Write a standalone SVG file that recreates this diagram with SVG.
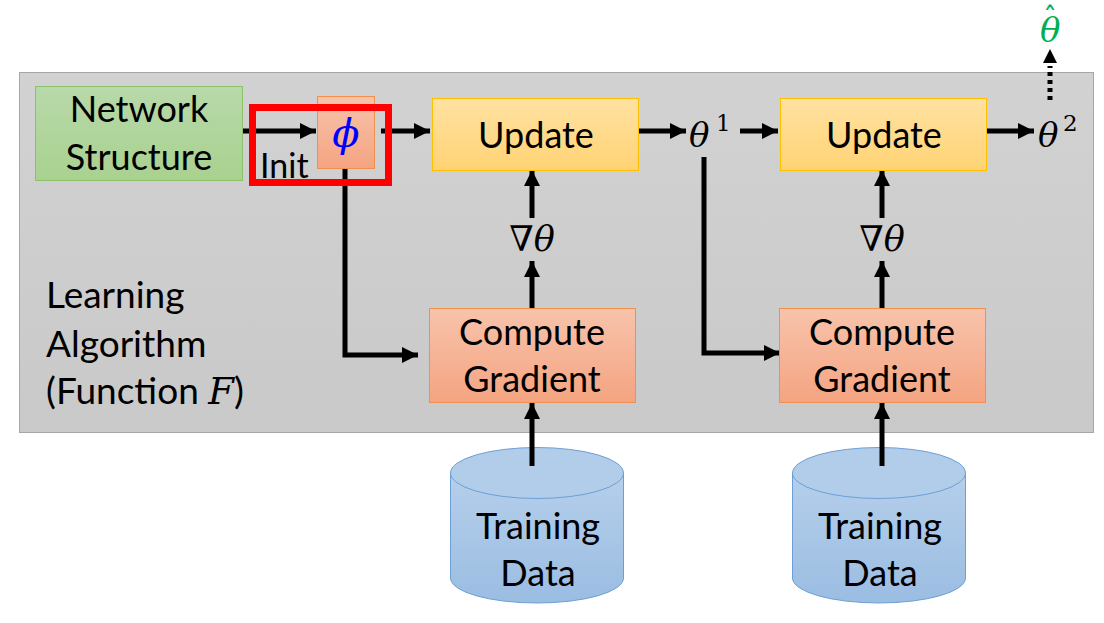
<svg xmlns="http://www.w3.org/2000/svg" width="1104" height="623" viewBox="0 0 1104 623">
<defs>
<linearGradient id="gYel" x1="0" y1="0" x2="0" y2="1"><stop offset="0" stop-color="#ffe2a2"/><stop offset="1" stop-color="#ffd374"/></linearGradient>
<linearGradient id="gSal" x1="0" y1="0" x2="0" y2="1"><stop offset="0" stop-color="#f8c3ab"/><stop offset="1" stop-color="#f4a481"/></linearGradient>
<linearGradient id="gGrn" x1="0" y1="0" x2="0" y2="1"><stop offset="0" stop-color="#b8d9aa"/><stop offset="1" stop-color="#a9d18f"/></linearGradient>
<linearGradient id="gBlu" x1="0" y1="0" x2="0" y2="1"><stop offset="0" stop-color="#b5cfeb"/><stop offset="1" stop-color="#9bbde2"/></linearGradient>
<linearGradient id="gPanel" x1="0" y1="0" x2="0" y2="1"><stop offset="0" stop-color="#d2d2d2"/><stop offset="1" stop-color="#c9c9c9"/></linearGradient>
<marker id="ah" viewBox="0 0 10 10" refX="10" refY="5" markerWidth="3.2" markerHeight="3.2" orient="auto" markerUnits="strokeWidth"><path d="M0,0 L10,5 L0,10 Z" fill="#000"/></marker>
</defs>
<style>
.t{font-family:Lato,"Open Sans","Liberation Sans",sans-serif;font-size:36px;fill:#000;text-anchor:middle}
.m{font-family:"DejaVu Serif","Liberation Serif",serif;font-style:italic;fill:#000}
.c{stroke:#000;stroke-width:5;fill:none}
</style>
<rect x="19.5" y="72.5" width="1074" height="360" fill="url(#gPanel)" stroke="#a6a6a6" stroke-width="1"/>

<g id="connectors">
<line class="c" x1="242" y1="131" x2="316" y2="131" marker-end="url(#ah)"/>
<line class="c" x1="381" y1="131" x2="430" y2="131" marker-end="url(#ah)"/>
<line class="c" x1="638" y1="131" x2="686" y2="131" marker-end="url(#ah)"/>
<line class="c" x1="740" y1="131" x2="778" y2="131" marker-end="url(#ah)"/>
<line class="c" x1="986" y1="131" x2="1034" y2="131" marker-end="url(#ah)"/>
<line x1="1050" y1="100" x2="1050" y2="66" stroke="#000" stroke-width="5" stroke-dasharray="4,4"/>
<path d="M1043,63 L1050,49 L1057,63 Z" fill="#000"/>
<polyline class="c" points="345,168 345,355 418,355" marker-end="url(#ah)"/>
<polyline class="c" points="704,157 704,353 780,353" marker-end="url(#ah)"/>
<line class="c" x1="532" y1="308" x2="532" y2="261" marker-end="url(#ah)"/>
<line class="c" x1="532" y1="218" x2="532" y2="170" marker-end="url(#ah)"/>
<line class="c" x1="882" y1="308" x2="882" y2="261" marker-end="url(#ah)"/>
<line class="c" x1="882" y1="218" x2="882" y2="170" marker-end="url(#ah)"/>
<line class="c" x1="532" y1="466" x2="532" y2="403" marker-end="url(#ah)"/>
<line class="c" x1="882" y1="466" x2="882" y2="403" marker-end="url(#ah)"/>
</g>

<g id="network-structure">
<rect x="35.5" y="86.5" width="207" height="94" fill="url(#gGrn)" stroke="#8cc26a" stroke-width="1"/>
<text class="t" x="139" y="122">Network</text>
<text class="t" x="139" y="170">Structure</text>
</g>

<g id="init-phi">
<rect x="317.5" y="96.5" width="57" height="72" fill="url(#gSal)" stroke="#f0904f" stroke-width="1"/>
<text class="m" x="346" y="147" font-size="40" style="fill:#0000ff" text-anchor="middle">ϕ</text>
<rect x="252.5" y="107.5" width="136" height="75" fill="none" stroke="#ff0000" stroke-width="7"/>
<text class="t" x="260" y="178" style="font-size:34px;text-anchor:start">Init</text>
</g>

<g id="update1">
<rect x="432.5" y="98.5" width="206" height="72" fill="url(#gYel)" stroke="#ffc000" stroke-width="1"/>
<text class="t" x="536" y="148">Update</text>
</g>

<g id="theta1">
<text class="m" x="689" y="147" font-size="34">θ<tspan x="716" y="131" font-size="23" style="font-style:normal">1</tspan></text>
</g>

<g id="update2">
<rect x="780.5" y="98.5" width="206" height="72" fill="url(#gYel)" stroke="#ffc000" stroke-width="1"/>
<text class="t" x="884" y="148">Update</text>
</g>

<g id="theta2">
<text class="m" x="1038" y="147" font-size="34">θ<tspan x="1063" y="131" font-size="23" style="font-style:normal">2</tspan></text>
</g>

<g id="theta-hat">
<text class="m" x="1040" y="42" font-size="34" style="fill:#00b050">θ<tspan x="1043" y="28" font-size="28" style="font-style:normal;font-family:'DejaVu Sans',sans-serif">ˆ</tspan></text>
</g>

<g id="grad1">
<text class="m" x="532" y="251" font-size="35" text-anchor="middle">∇θ</text>
</g>
<g id="grad2">
<text class="m" x="882" y="251" font-size="35" text-anchor="middle">∇θ</text>
</g>

<g id="compute-gradient1">
<rect x="429.5" y="308.5" width="206" height="94" fill="url(#gSal)" stroke="#f0904f" stroke-width="1"/>
<text class="t" x="532" y="345">Compute</text>
<text class="t" x="532" y="392">Gradient</text>
</g>

<g id="compute-gradient2">
<rect x="779.5" y="308.5" width="206" height="94" fill="url(#gSal)" stroke="#f0904f" stroke-width="1"/>
<text class="t" x="882" y="345">Compute</text>
<text class="t" x="882" y="392">Gradient</text>
</g>

<g id="learning-algorithm">
<text class="t" x="46" y="308" style="text-anchor:start;font-size:37px">Learning</text>
<text class="t" x="46" y="357" style="text-anchor:start;font-size:37px">Algorithm</text>
<text class="t" x="46" y="404" style="text-anchor:start;font-size:37px">(Function <tspan style="font-family:'DejaVu Serif','Liberation Serif',serif;font-style:italic">F</tspan>)</text>
</g>

<g id="training-data1">
<path d="M450.5,473 L450.5,578 A86.5,25 0 0 0 623.5,578 L623.5,473" fill="url(#gBlu)" stroke="#6d9fd6" stroke-width="1"/>
<ellipse cx="537" cy="473" rx="86.5" ry="25.5" fill="#b2cdea" stroke="#6d9fd6" stroke-width="1"/>
<line class="c" x1="532" y1="447" x2="532" y2="466"/>
<text class="t" x="538" y="539">Training</text>
<text class="t" x="538" y="586">Data</text>
</g>

<g id="training-data2">
<path d="M792.5,473 L792.5,578 A86.5,25 0 0 0 965.5,578 L965.5,473" fill="url(#gBlu)" stroke="#6d9fd6" stroke-width="1"/>
<ellipse cx="879" cy="473" rx="86.5" ry="25.5" fill="#b2cdea" stroke="#6d9fd6" stroke-width="1"/>
<line class="c" x1="882" y1="447" x2="882" y2="466"/>
<text class="t" x="880" y="539">Training</text>
<text class="t" x="880" y="586">Data</text>
</g>
</svg>
